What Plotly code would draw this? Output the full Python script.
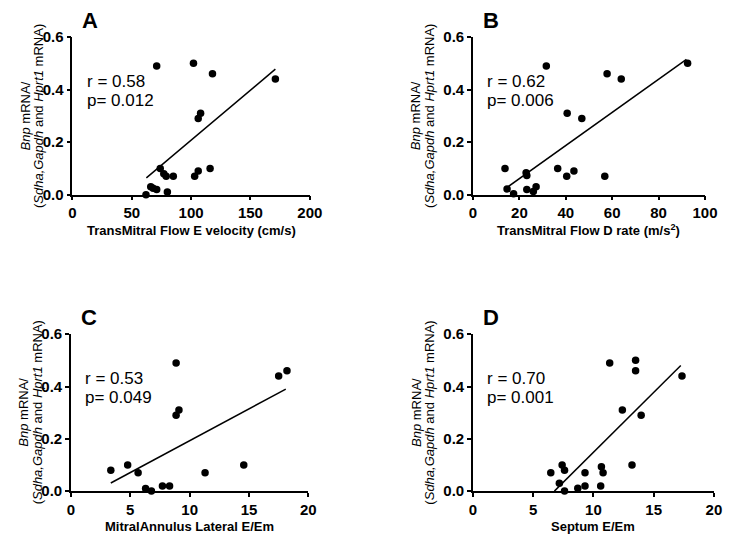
import plotly.graph_objects as go

W, H = 740, 543

# ---- data ----
a_x = [71, 102, 118, 171, 108, 106, 74, 77, 79, 85, 103, 106, 116, 66, 68, 71, 80, 62]
a_y = [0.49, 0.50, 0.46, 0.44, 0.31, 0.29, 0.10, 0.08, 0.07, 0.07, 0.07, 0.09, 0.10, 0.03, 0.025, 0.02, 0.01, 0.0]
a_fit_x = [62.3, 171]
a_fit_y = [0.064, 0.478]

b_x = [31.6, 57.8, 63.9, 40.6, 46.9, 13.8, 36.5, 43.5, 40.4, 56.8, 22.9, 23.2, 14.7, 17.5, 23.2, 26.0, 27.2, 92.5]
b_y = [0.49, 0.46, 0.44, 0.31, 0.29, 0.10, 0.10, 0.09, 0.07, 0.07, 0.084, 0.073, 0.022, 0.004, 0.02, 0.012, 0.03, 0.50]
b_fit_x = [15.2, 92]
b_fit_y = [0.031, 0.515]

c_x = [8.86, 17.5, 18.2, 9.1, 8.86, 3.36, 4.78, 5.66, 6.29, 6.78, 7.71, 8.31, 11.3, 14.56]
c_y = [0.49, 0.44, 0.46, 0.31, 0.29, 0.08, 0.10, 0.07, 0.01, 0.0, 0.02, 0.02, 0.07, 0.10]
c_fit_x = [3.36, 18.1]
c_fit_y = [0.031, 0.39]

d_x = [11.35, 13.5, 13.5, 12.4, 13.96, 17.35, 6.46, 7.4, 7.6, 7.17, 7.6, 8.7, 9.3, 9.3, 10.66, 10.8, 10.6, 13.2]
d_y = [0.49, 0.50, 0.46, 0.31, 0.29, 0.44, 0.07, 0.10, 0.08, 0.03, 0.0, 0.011, 0.07, 0.02, 0.093, 0.07, 0.02, 0.10]
d_fit_x = [6.76, 17.25]
d_fit_y = [0.0, 0.48]

x_titles = ["TransMitral Flow E velocity (cm/s)",
            "TransMitral Flow D rate (m/s<sup>2</sup>)",
            "MitralAnnulus Lateral E/Em",
            "Septum E/Em"]
letters = ["A", "B", "C", "D"]
r_texts = ["r = 0.58", "r = 0.62", "r = 0.53", "r = 0.70"]
p_texts = ["p= 0.012", "p= 0.006", "p= 0.049", "p= 0.001"]
x_ticks = [[0, 50, 100, 150, 200], [0, 20, 40, 60, 80, 100], [0, 5, 10, 15, 20], [0, 5, 10, 15, 20]]
x_ranges = [[0, 200], [0, 100], [0, 20], [0, 20]]
y_ticks = [0.0, 0.2, 0.4, 0.6]
y_tick_labels = ["0.0", "0.2", "0.4", "0.6"]
y_range = [0, 0.6]

# ---- layout geometry (pixels) ----
# (x_left, x_right, y_bottom, y_top) in screen px
boxes = [(70, 313, 191.7, 29), (480, 717.5, 191.7, 29),
         (68.5, 311.5, 497.7, 335.7), (480, 726.6, 497.7, 335.7)]

FONT = "Liberation Sans, Arial, sans-serif"

def px(xp):
    return xp / W

def py(yp):
    return 1 - yp / H

series = [(a_x, a_y, a_fit_x, a_fit_y), (b_x, b_y, b_fit_x, b_fit_y),
          (c_x, c_y, c_fit_x, c_fit_y), (d_x, d_y, d_fit_x, d_fit_y)]

fig = go.Figure()
layout = dict(width=W, height=H, autosize=False, margin=dict(l=0, r=0, t=0, b=0, pad=0),
              paper_bgcolor="white", plot_bgcolor="white", showlegend=False,
              annotations=[])

for i, (sx, sy, fx, fy) in enumerate(series):
    n = "" if i == 0 else str(i + 1)
    xa, ya = "x" + n, "y" + n
    fig.add_trace(go.Scatter(x=fx, y=fy, mode="lines", xaxis=xa, yaxis=ya,
                             line=dict(color="black", width=1.5), cliponaxis=False))
    fig.add_trace(go.Scatter(x=sx, y=sy, mode="markers", xaxis=xa, yaxis=ya,
                             marker=dict(color="black", size=7.5), cliponaxis=False))
    xl, xr, yb, yt = boxes[i]
    tfont = dict(family=FONT, size=15, color="black", weight="bold")
    layout["xaxis" + n] = dict(domain=[px(xl), px(xr)], anchor=ya, range=x_ranges[i],
                               tickmode="array", tickvals=x_ticks[i],
                               ticktext=["<b>%g</b>" % v for v in x_ticks[i]],
                               showline=True, linecolor="black",
                               linewidth=1.5, ticks="outside", ticklen=4, tickwidth=1.5,
                               tickcolor="black", showgrid=False, zeroline=False,
                               tickfont=tfont)
    layout["yaxis" + n] = dict(domain=[py(yb), py(yt)], anchor=xa, range=y_range,
                               tickmode="array", tickvals=y_ticks,
                               ticktext=["<b>%s</b>" % t for t in y_tick_labels],
                               showline=True,
                               linecolor="black", linewidth=1.5, ticks="outside", ticklen=4,
                               tickwidth=1.5, tickcolor="black", showgrid=False, zeroline=False,
                               tickfont=tfont)
    ann = layout["annotations"]
    # x title
    ann.append(dict(text="<b>" + x_titles[i] + "</b>", xref="paper", yref="paper",
                    x=px((xl + xr) / 2), y=py(yb + 36.5), xanchor="center", yanchor="middle",
                    showarrow=False, font=dict(family=FONT, size=13, color="black")))
    # y title (two lines)
    yc = (yb + yt) / 2
    ann.append(dict(text="<i>Bnp</i> mRNA/", xref="paper", yref="paper",
                    x=px(xl - 48 if i % 2 == 0 else xl - 58), y=py(yc), xanchor="center",
                    yanchor="middle", textangle=-90, showarrow=False,
                    font=dict(family=FONT, size=13, color="black")))
    ann.append(dict(text="(<i>Sdha,Gapdh</i> and <i>Hprt1</i> mRNA)", xref="paper", yref="paper",
                    x=px(xl - 34 if i % 2 == 0 else xl - 44), y=py(yc), xanchor="center",
                    yanchor="middle", textangle=-90, showarrow=False,
                    font=dict(family=FONT, size=13, color="black")))
    # panel letter
    ann.append(dict(text="<b>" + letters[i] + "</b>", xref="paper", yref="paper",
                    x=px(xl + 18), y=py(yt - 17), xanchor="center", yanchor="middle",
                    showarrow=False, font=dict(family=FONT, size=22, color="black")))
    # stats
    ann.append(dict(text=r_texts[i], xref="paper", yref="paper",
                    x=px(xl + 12.5), y=py(yt + 46), xanchor="left", yanchor="middle",
                    showarrow=False, font=dict(family=FONT, size=17, color="black")))
    ann.append(dict(text=p_texts[i], xref="paper", yref="paper",
                    x=px(xl + 12.5), y=py(yt + 65), xanchor="left", yanchor="middle",
                    showarrow=False, font=dict(family=FONT, size=17, color="black")))

fig.update_layout(**layout)
fig.write_html("out.html",
               config={"responsive": False, "displayModeBar": False},
               post_script="document.body.style.margin='0';document.body.style.padding='0';document.body.style.overflow='hidden';")
